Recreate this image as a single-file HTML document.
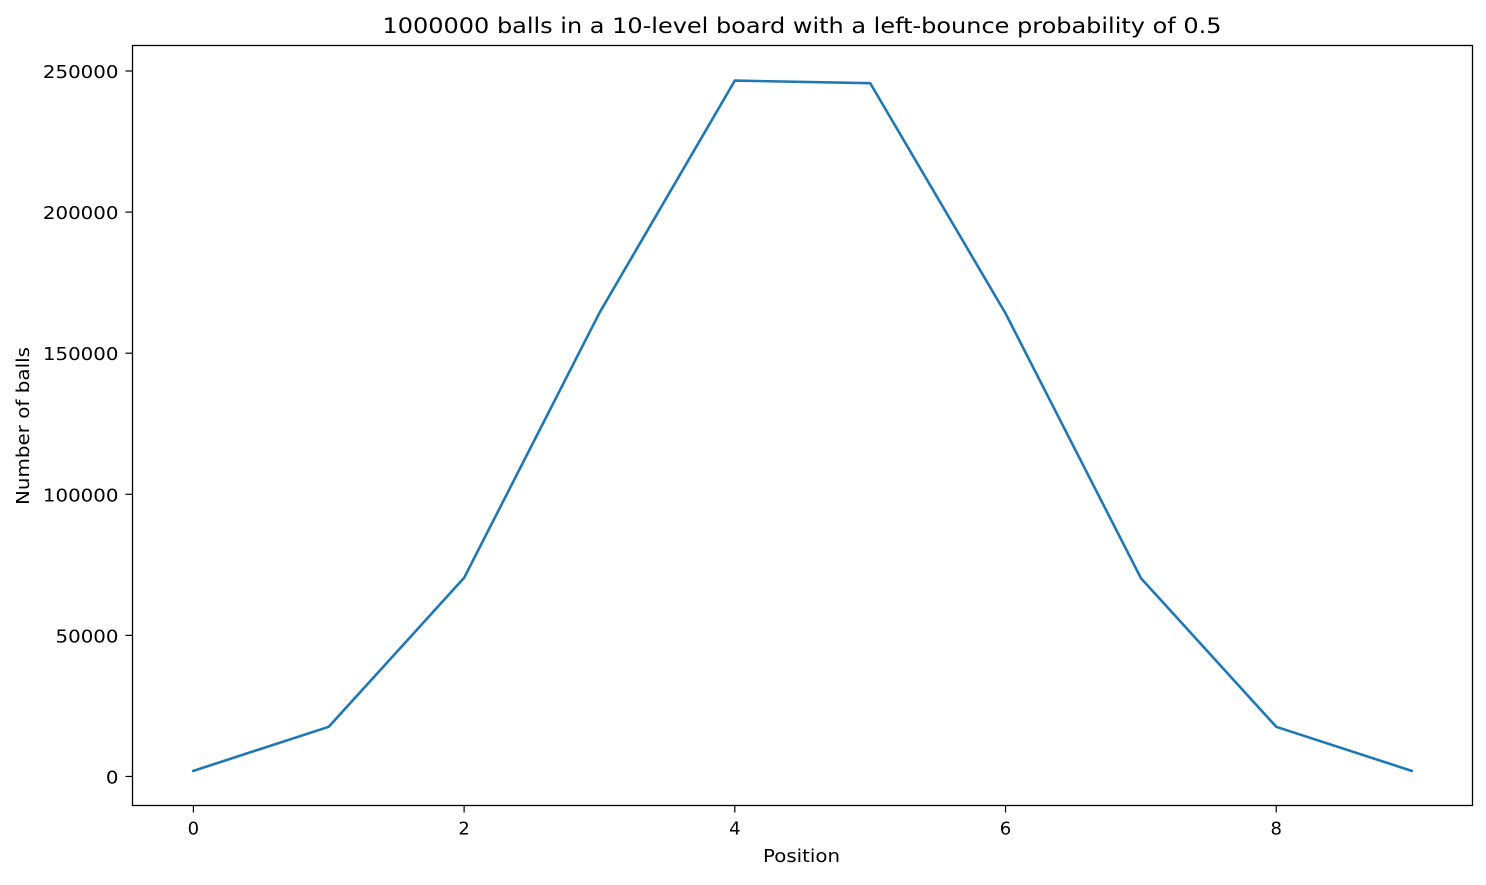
<!DOCTYPE html>
<html><head><meta charset="utf-8"><style>
body{margin:0;background:#fff;}
svg text{font-family:"DejaVu Sans","Liberation Sans",sans-serif;fill:#000;}
</style></head><body>
<svg id="chart" width="1486" height="880" xmlns="http://www.w3.org/2000/svg">
<rect x="0" y="0" width="1486" height="880" fill="#fff"/>
<text x="802" y="33" font-size="21" text-anchor="middle" textLength="839" lengthAdjust="spacingAndGlyphs">1000000 balls in a 10-level board with a left-bounce probability of 0.5</text>
<g id="plot"></g>
<rect x="132.5" y="45.5" width="1340" height="760" fill="none" stroke="#000" stroke-width="1.3"/>
<text x="801.5" y="862" font-size="18" text-anchor="middle" textLength="77" lengthAdjust="spacingAndGlyphs">Position</text>
<text x="0" y="0" font-size="18" text-anchor="middle" textLength="158" lengthAdjust="spacingAndGlyphs" transform="translate(29 426) rotate(-90)">Number of balls</text>
</svg>
<script>
const positions=[0,1,2,3,4,5,6,7,8,9];
const counts=[2000,17600,70400,164300,246600,245700,164100,70300,17600,2000];
const xTicks=[0,2,4,6,8];
const yTicks=[0,50000,100000,150000,200000,250000];
const L=132.5,R=1472.5,T=45.5,B=805.5;
const xMin=-0.45,xMax=9.45,yMin=-10290,yMax=259040;
function xs(v){return L+(v-xMin)/(xMax-xMin)*(R-L);}
function ys(v){return B-(v-yMin)/(yMax-yMin)*(B-T);}
const NS="http://www.w3.org/2000/svg";
const g=document.getElementById('plot');
function mk(t,a){const e=document.createElementNS(NS,t);for(const k in a)e.setAttribute(k,a[k]);g.appendChild(e);return e;}
xTicks.forEach(v=>{
  const l=mk('line',{x1:xs(v),x2:xs(v),y1:B,y2:B+7,stroke:'#000','stroke-width':1.2});
  
  
  const t=mk('text',{x:xs(v),y:B+29,'font-size':18,'text-anchor':'middle'});
  t.textContent=v;
  
  
});
yTicks.forEach(v=>{
  const l=mk('line',{x1:L-7,x2:L,y1:ys(v),y2:ys(v),stroke:'#000','stroke-width':1.2});
  
  
  const s=String(v);
  const t=mk('text',{x:L-14,y:ys(v)+7,'font-size':18,'text-anchor':'end',textLength:s.length*12.6,lengthAdjust:'spacingAndGlyphs'});
  t.textContent=s;
  
  
});
const pts=positions.map((p,i)=>xs(p)+','+ys(counts[i])).join(' ');
const line=mk('polyline',{points:pts,fill:'none',stroke:'#1f77b4','stroke-width':2.6,'stroke-linejoin':'round','stroke-linecap':'square'});


</script>
</body></html>
